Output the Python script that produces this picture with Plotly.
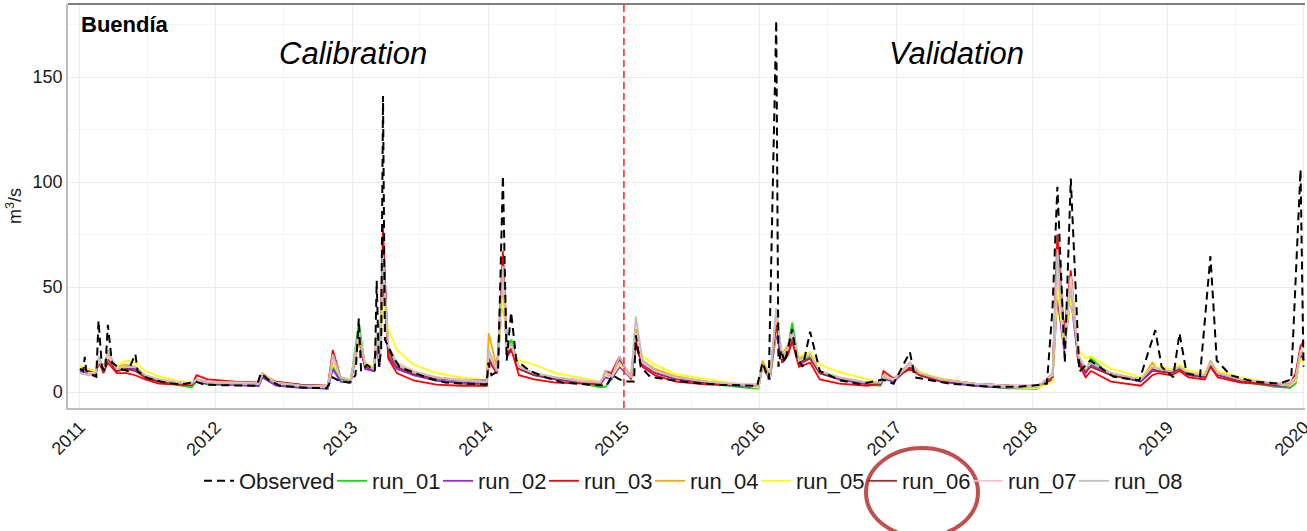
import plotly.graph_objects as go

# ---------------- data ----------------
years = [2011, 2012, 2013, 2014, 2015, 2016, 2017, 2018, 2019, 2020]
year_labels = [str(y) for y in years]
y_ticks = [0, 50, 100, 150]

obs_dates = [
    "2011-01-01", "2011-01-10", "2011-01-14", "2011-01-18", "2011-02-05", "2011-02-14", "2011-02-20",
    "2011-03-01", "2011-03-10", "2011-03-17", "2011-03-28", "2011-04-20", "2011-05-10", "2011-05-30",
    "2011-06-05", "2011-07-01", "2011-08-15", "2011-10-01", "2011-11-08", "2011-12-01", "2012-02-01",
    "2012-04-20", "2012-05-01", "2012-05-20", "2012-06-20", "2012-09-01", "2012-10-25", "2012-11-10",
    "2012-12-01", "2012-12-25", "2013-01-10", "2013-01-19", "2013-01-25", "2013-02-10", "2013-03-03",
    "2013-03-08", "2013-03-14", "2013-03-20", "2013-03-25", "2013-03-30", "2013-04-22", "2013-05-08",
    "2013-06-20", "2013-07-26", "2013-09-08", "2013-11-01", "2013-12-28", "2014-01-02", "2014-01-10",
    "2014-01-28", "2014-02-10", "2014-02-20", "2014-03-04", "2014-03-18", "2014-04-24", "2014-06-05",
    "2014-07-20", "2014-10-01", "2014-11-15", "2014-12-01", "2014-12-20", "2015-01-10", "2015-01-28",
    "2015-02-02", "2015-02-15", "2015-03-12", "2015-04-25", "2015-06-28", "2015-09-15", "2015-12-25",
    "2016-01-08", "2016-01-25", "2016-02-14", "2016-02-20", "2016-02-27", "2016-03-08", "2016-03-28",
    "2016-04-08", "2016-04-25", "2016-05-15", "2016-06-10", "2016-08-05", "2016-09-28", "2016-11-25",
    "2016-12-25", "2017-02-07", "2017-02-20", "2017-05-25", "2017-09-10", "2017-11-20", "2017-12-31",
    "2018-02-10", "2018-02-25", "2018-03-10", "2018-03-30", "2018-04-15", "2018-05-08", "2018-06-06",
    "2018-08-08", "2018-10-16", "2018-11-28", "2018-12-15", "2019-01-15", "2019-02-01", "2019-02-20",
    "2019-03-28", "2019-04-25", "2019-05-12", "2019-06-18", "2019-08-18", "2019-10-27", "2019-11-28",
    "2019-12-23", "2019-12-31",
]
observed = [
    11, 10, 16.7, 10, 8, 7.3, 34,
    12, 10, 32, 14, 11, 10, 18,
    10, 6.7, 4.6, 3.5, 5, 3.5, 3.2,
    3, 9, 6, 3, 2, 1.8, 7,
    5, 4.5, 8, 35, 10, 13, 10,
    53, 12, 20, 141, 25, 16.5, 12,
    9, 6.5, 4.5, 4, 3.5, 14, 8,
    10, 103, 15, 38, 15, 10, 7,
    4.5, 3.5, 3, 8, 6, 5, 5,
    27, 12, 7.3, 6, 4.5, 3.5, 3,
    14, 6, 177, 12, 20, 14, 30,
    17, 12, 28.7, 10, 5.5, 3.7, 6,
    4, 19, 7, 4, 2.5, 2.5, 3,
    4, 40, 97.8, 14, 101.7, 9.7, 15,
    7.3, 5.5, 29.5, 12, 7, 28, 9,
    7.5, 64.7, 15, 8, 5, 4, 6,
    106, 12,
]

sim_dates = [
    "2011-01-01", "2011-01-25", "2011-02-12", "2011-02-21", "2011-03-05", "2011-03-17", "2011-04-10",
    "2011-05-05", "2011-05-30", "2011-06-25", "2011-08-01", "2011-09-15", "2011-10-28", "2011-11-10",
    "2011-12-10", "2012-03-01", "2012-04-25", "2012-05-05", "2012-06-10", "2012-08-15", "2012-10-28",
    "2012-11-10", "2012-12-01", "2012-12-28", "2013-01-19", "2013-02-05", "2013-02-28", "2013-03-08",
    "2013-03-16", "2013-03-25", "2013-04-08", "2013-05-01", "2013-06-15", "2013-08-15", "2013-10-20",
    "2013-12-28", "2014-01-03", "2014-01-25", "2014-02-10", "2014-02-22", "2014-03-05", "2014-03-25",
    "2014-05-05", "2014-07-01", "2014-09-10", "2014-10-30", "2014-11-12", "2014-11-28", "2014-12-20",
    "2015-01-20", "2015-02-02", "2015-02-20", "2015-03-25", "2015-05-20", "2015-08-15", "2015-11-01",
    "2015-12-28", "2016-01-08", "2016-01-28", "2016-02-14", "2016-03-01", "2016-03-15", "2016-03-28",
    "2016-04-15", "2016-05-15", "2016-06-10", "2016-08-01", "2016-10-15", "2016-11-20", "2016-11-28",
    "2016-12-25", "2017-02-07", "2017-03-05", "2017-05-01", "2017-08-01", "2017-11-01", "2018-01-15",
    "2018-02-25", "2018-03-10", "2018-03-28", "2018-04-15", "2018-05-05", "2018-05-25", "2018-06-08",
    "2018-08-01", "2018-10-20", "2018-11-20", "2018-12-05", "2019-01-10", "2019-02-01", "2019-02-25",
    "2019-04-10", "2019-04-25", "2019-05-15", "2019-07-15", "2019-10-15", "2019-11-25", "2019-12-10",
    "2019-12-23", "2020-01-01",
]

run_01 = [10, 9, 9, 14, 10, 16, 10, 11, 11, 7, 5, 3.5, 2.2, 5, 3.5, 3.3, 3, 7, 3.5, 2.2,
          1.5, 12, 6, 5, 33, 12, 10, 24, 13, 60, 18, 12, 8, 5.5, 4, 3, 16, 9, 50, 18,
          25, 11, 8, 6, 4, 2.2, 2.5, 6, 12, 7, 28, 15, 10, 6.5, 4, 2.5, 1.5, 12, 6, 30,
          15, 20, 33, 14, 17, 9, 6, 3.5, 3, 6, 5, 12, 8, 5, 3, 1.8, 1.5, 6, 50, 22,
          48, 16, 9, 16, 8, 5, 10, 10, 9, 11, 8, 7, 13, 8, 5, 2.5, 2, 4, 18, 16]
run_02 = [10, 9, 9, 14, 10, 16, 10, 11, 11, 7, 5, 4, 3.5, 5, 4, 3.2, 2.8, 7, 3, 2,
          1.8, 11, 5, 4.5, 25, 11, 10, 22, 12, 55, 17, 11, 8, 5.5, 4.5, 4, 15, 9, 48, 17,
          20, 11, 8, 6, 4.5, 3.5, 7, 6, 12, 6.5, 22, 13, 9, 6, 4, 3, 2.2, 12, 6, 28,
          14, 18, 26, 13, 16, 9, 6, 3.8, 3.5, 6.5, 5, 12, 8, 5, 3, 2, 1.8, 6, 45, 20,
          45, 15, 9, 13, 8, 5, 10, 10, 9, 11, 8, 7, 13, 8, 5, 3, 2.5, 5, 18, 15]
run_03 = [11, 10, 8, 15, 9, 14, 9, 9, 8, 6, 4, 3.5, 3.2, 8, 6, 4.8, 4.5, 8, 5, 3.5,
          3, 20, 7, 5, 25, 12, 11, 26, 14, 78, 16, 9, 5.5, 3.5, 3, 3, 15, 9, 67, 18,
          20, 8, 6, 4.5, 4, 3.8, 10, 9, 17, 6, 23, 12, 8, 5, 3.5, 3.5, 3.5, 12, 7, 34,
          14, 17, 24, 12, 14, 6, 4, 3, 4, 10, 6.5, 11, 8, 5.5, 4, 3, 3, 7, 75, 28,
          58, 14, 7, 10, 5, 3, 8, 9, 8, 10, 7, 6, 12, 7, 4.5, 3.5, 4, 9, 22, 24]
run_04 = [12, 11, 10, 16, 12, 18, 12, 13, 12, 8, 6, 4.5, 4, 6, 4.5, 4, 3.8, 9, 4.5, 3,
          2.5, 15, 7, 5.5, 28, 13, 11, 27, 15, 62, 22, 14, 10, 7, 6, 5, 28, 11, 55, 20,
          22, 12, 9, 7, 5.5, 4.5, 9, 7, 14, 8, 30, 15, 11, 7.5, 5, 3.5, 2.5, 15, 8, 35,
          18, 22, 28, 16, 18, 10, 7, 4.5, 4.5, 8, 6, 14, 9.5, 6, 4, 2.5, 2.2, 8, 60, 25,
          55, 18, 11, 14, 9, 6, 14, 11, 10, 12, 9, 8, 15, 9, 6, 4, 3, 6, 20, 18]
run_05 = [12, 11, 10, 15, 12, 17, 12, 15, 14, 10, 7.5, 5.5, 4.5, 5.5, 5, 4.5, 4, 8, 4.5, 3,
          2.5, 14, 7, 6, 24, 14, 12, 25, 15, 45, 30, 20, 13, 9, 7, 5.5, 18, 11, 45, 22,
          21, 15, 13, 9, 6.5, 5, 8, 7, 13, 7, 26, 17, 13, 8.5, 6, 4, 2, 12, 7, 30,
          17, 21, 27, 17, 19, 13, 9.5, 6, 4.5, 7, 6, 13, 9.5, 6.5, 4, 2.2, 1.8, 5, 50, 22,
          45, 20, 16, 17, 11, 7, 12, 12, 11, 13, 10, 9, 15, 10, 7, 4, 3, 5, 16, 14]
run_06 = [11, 10, 9, 15, 10, 16, 10, 11, 10, 7, 5, 4.5, 4, 6, 5, 4.5, 4.2, 7.5, 4.5, 3.5,
          2.8, 17, 7, 5.5, 26, 12, 11, 24, 14, 68, 20, 12, 8.5, 6.5, 5.5, 5.5, 17, 10, 58, 19,
          21, 11, 8, 6.5, 5, 4.5, 9, 7.5, 15, 7, 25, 14, 9.5, 6.5, 4.5, 3.8, 3.2, 13, 7, 32,
          15, 19, 27, 14, 16, 9, 6.5, 4.5, 4.5, 8, 6, 12, 8.5, 6, 4, 3, 2.8, 7, 65, 26,
          52, 16, 10, 12, 8, 5.5, 11, 10, 9.5, 11, 8.5, 7.5, 13, 8.5, 5.5, 4, 3.5, 7, 20, 18]
run_07 = [11, 9, 9.5, 15, 11, 17, 11, 12, 12, 8, 6, 5, 4.5, 6, 5, 4.5, 4.2, 8, 4.5, 3.2,
          2.8, 16, 7, 5.5, 27, 13, 11, 25, 14, 62, 22, 14, 10, 7, 6, 5, 18, 10, 55, 20,
          22, 12, 9, 7, 5.5, 5, 9, 7, 14, 7, 28, 14, 10, 7, 5, 4, 3.5, 13, 7, 38,
          16, 20, 28, 15, 18, 10, 7, 4.5, 5, 8, 6, 13, 9, 6, 4, 3, 2.8, 8, 60, 25,
          55, 18, 11, 14, 9, 6, 12, 11, 10, 12, 9, 8, 14, 9, 6, 4.5, 4.5, 7, 20, 18]
run_08 = [9, 8, 9, 17, 11, 20, 11, 12, 12, 8, 6, 4.5, 4, 6, 4.5, 4, 3.8, 8.5, 4.2, 3,
          2.5, 18, 7, 5.5, 30, 13, 11, 28, 15, 65, 22, 13, 9.5, 7, 5.5, 5, 20, 10, 60, 22,
          23, 12, 9, 7, 5, 4.5, 10, 7, 17, 7, 36, 15, 10, 7, 4.8, 3.5, 2.5, 13, 7, 40,
          16, 21, 30, 15, 18, 10, 7, 4.5, 4.5, 7.5, 5.5, 14, 9, 6, 3.8, 2.5, 2.2, 9, 68, 24,
          50, 17, 11, 14, 9, 6, 12, 11, 10, 12, 9, 8, 15, 9, 6, 4, 3.5, 6, 19, 17]

run_names = ["run_01", "run_02", "run_03", "run_04", "run_05", "run_06", "run_07", "run_08"]
run_values = [run_01, run_02, run_03, run_04, run_05, run_06, run_07, run_08]
run_colors = ["#00E600", "#A020F0", "#FF0000", "#FFA500", "#FFFF00", "#A52A2A", "#FFC0CB", "#BEBEBE"]

# ---------------- figure ----------------
fig = go.Figure()
for i, (name, vals, col) in enumerate(zip(run_names, run_values, run_colors)):
    fig.add_trace(go.Scatter(x=sim_dates, y=vals, mode="lines", name=name,
                             line=dict(color=col, width=1.8), legendrank=i + 2,
                             legendwidth=(75 if name == "run_08" else 61)))
fig.add_trace(go.Scatter(x=obs_dates, y=observed, mode="lines", name="Observed",
                         line=dict(color="black", width=2, dash="8px,5px"), legendrank=1,
                         legendwidth=88))

W, H = 1307, 531
L, R, T, B = 68, 2, 4, 123
pw = W - L - R
ph = H - T - B


def px_x(p):
    return (p - L) / pw


def px_y(p):
    return (H - B - p) / ph


fig.update_layout(
    width=W, height=H,
    margin=dict(l=L, r=R, t=T, b=B, autoexpand=False),
    paper_bgcolor="white", plot_bgcolor="white",
    font=dict(family="Liberation Sans, Arial, sans-serif", color="#1a1a1a"),
    legend=dict(orientation="h", x=px_x(199), xanchor="left", y=px_y(481), yanchor="middle",
                font=dict(size=22, color="#1a1a1a"), bgcolor="rgba(0,0,0,0)"),
    xaxis=dict(
        type="date", range=["2010-11-30", "2020-01-04"], automargin=False,
        tickvals=[f"{y}-01-01" for y in years], ticktext=year_labels,
        tickangle=-45, tickfont=dict(size=18, color="#1a1a1a"),
        ticklabeloverflow="allow",
        showgrid=True, gridcolor="#EBEBEB", gridwidth=1,
        minor=dict(tickvals=[f"{y}-07-01" for y in years[:-1]], showgrid=True,
                   gridcolor="#F4F4F4", gridwidth=1),
        showline=True, linecolor="#BDBDBD", linewidth=1.5, zeroline=False, ticks="",
    ),
    yaxis=dict(
        range=[-7.6, 184.8], tickvals=y_ticks, automargin=False,
        tickfont=dict(size=18, color="#1a1a1a"),
        title=dict(text="m<sup>3</sup>/s", font=dict(size=18, color="#1a1a1a"), standoff=6),
        showgrid=True, gridcolor="#EBEBEB", gridwidth=1,
        minor=dict(tickvals=[25, 75, 125, 175], showgrid=True, gridcolor="#F4F4F4", gridwidth=1),
        showline=True, linecolor="#BDBDBD", linewidth=1.5, zeroline=False, ticks="",
    ),
    shapes=[
        dict(type="line", xref="paper", yref="paper", x0=0, x1=1, y0=1, y1=1,
             line=dict(color="#555555", width=1.5)),
        dict(type="line", xref="x", yref="paper", x0="2015-01-01", x1="2015-01-01", y0=0, y1=1,
             line=dict(color="#FF2020", width=1.5, dash="7px,4px")),
        dict(type="circle", xref="paper", yref="paper",
             x0=px_x(866), x1=px_x(978), y0=px_y(537), y1=px_y(448),
             line=dict(color="#C0504D", width=4)),
    ],
    annotations=[
        dict(text="<b>Buendía</b>", xref="paper", yref="paper", x=px_x(79), y=px_y(24),
             xanchor="left", yanchor="middle", showarrow=False, font=dict(size=22, color="black")),
        dict(text="<i>Calibration</i>", xref="paper", yref="paper", x=px_x(352.5), y=px_y(53),
             xanchor="center", yanchor="middle", showarrow=False, font=dict(size=31, color="black")),
        dict(text="<i>Validation</i>", xref="paper", yref="paper", x=px_x(956.5), y=px_y(53),
             xanchor="center", yanchor="middle", showarrow=False, font=dict(size=31, color="black")),
    ],
)

fig.write_html("out.html")
